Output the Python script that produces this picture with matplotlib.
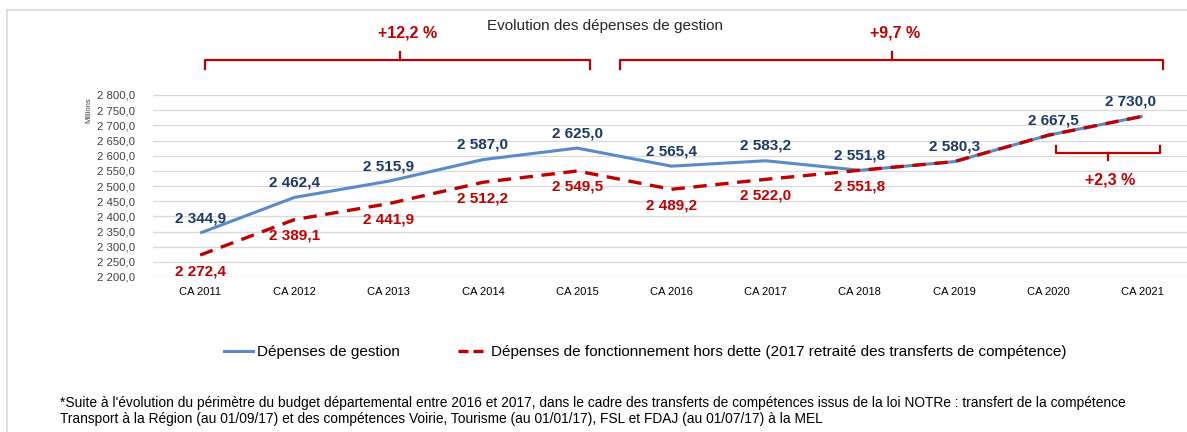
import matplotlib
matplotlib.use("Agg")
import matplotlib.pyplot as plt
from matplotlib.lines import Line2D

plt.rcParams['font.family'] = ['Liberation Sans', 'DejaVu Sans']

categories = ["CA 2011", "CA 2012", "CA 2013", "CA 2014", "CA 2015", "CA 2016",
              "CA 2017", "CA 2018", "CA 2019", "CA 2020", "CA 2021"]
gestion = [2344.9, 2462.4, 2515.9, 2587.0, 2625.0, 2565.4, 2583.2, 2551.8, 2580.3, 2667.5, 2730.0]
fonctionnement = [2272.4, 2389.1, 2441.9, 2512.2, 2549.5, 2489.2, 2522.0, 2551.8, 2580.3, 2667.5, 2730.0]
yticks = [2200, 2250, 2300, 2350, 2400, 2450, 2500, 2550, 2600, 2650, 2700, 2750, 2800]
evolutions = ["+12,2 %", "+9,7 %", "+2,3 %"]

title = "Evolution des dépenses de gestion"
legend_labels = ["Dépenses de gestion",
                 "Dépenses de fonctionnement hors dette (2017 retraité des transferts de compétence)"]
footnote = ("*Suite à l'évolution du périmètre du budget départemental entre 2016 et 2017, dans le cadre des "
            "transferts de compétences issus de la loi NOTRe : transfert de la compétence\n"
            "Transport à la Région (au 01/09/17) et des compétences Voirie, Tourisme (au 01/01/17), "
            "FSL et FDAJ (au 01/07/17) à la MEL")

BLUE = "#5A8BC6"
NAVY = "#1F3864"
RED = "#C00000"

W, H = 1187, 432
fig = plt.figure(figsize=(W / 100, H / 100), dpi=100)
fig.patch.set_facecolor("white")

def fx(px):
    return px / W

def fy(py):
    return 1 - py / H

# light frame
fig.add_artist(Line2D([fx(7), 1.0], [fy(10), fy(10)], color="#DADADA", lw=1.2))
fig.add_artist(Line2D([fx(7), fx(7)], [fy(10), 0.0], color="#DADADA", lw=1.2))

ax_left, ax_right = 153, 1187
ax_top, ax_bot = 95, 277
ax = fig.add_axes([fx(ax_left), fy(ax_bot), fx(ax_right - ax_left), (ax_bot - ax_top) / H])

x = list(range(len(categories)))
ax.plot(x, gestion, color=BLUE, lw=2.2, solid_capstyle="butt", zorder=3)
ax.plot(x, fonctionnement, color=RED, lw=2.4, dashes=(4.0, 2.6), zorder=4)

ax.set_xlim(-0.5, 10.47)
ax.set_ylim(2200, 2800)
ax.set_yticks(yticks)

def fmt(v):
    return f"{v:,.1f}".replace(",", " ").replace(".", ",")

ax.set_yticklabels([fmt(v) for v in yticks], fontsize=8.2, color="#404040")
ax.set_xticks(x)
ax.set_xticklabels(categories, fontsize=8, color="#000000")
ax.tick_params(axis="both", length=0)
ax.tick_params(axis="y", pad=13)
ax.tick_params(axis="x", pad=7)
for s in ax.spines.values():
    s.set_visible(False)
ax.grid(axis="y", color="#D9D9D9", lw=0.9)
ax.set_axisbelow(True)

blue_dx = [0, 0, 0, 0, 0, 0, 0, 0, 0, 5, -12]
for i, v in enumerate(gestion):
    ax.annotate(fmt(v), (i, v), xytext=(blue_dx[i], 15), textcoords="offset pixels",
                ha="center", va="center", fontsize=11, fontweight="bold", color=NAVY, zorder=5)
for i, v in enumerate(fonctionnement[:8]):
    ax.annotate(fmt(v), (i, v), xytext=(0, -16), textcoords="offset pixels",
                ha="center", va="center", fontsize=11, fontweight="bold", color=RED, zorder=5)

fig.text(fx(89), fy(110), "Millions", rotation=90, fontsize=5.5,
         color="#404040", ha="center", va="center")

# brackets (figure pixel coordinates)
def bracket_top(x0, x1, xt, y, drop, tip):
    fig.add_artist(Line2D([fx(x0), fx(x0), fx(x1), fx(x1)],
                          [fy(y + drop), fy(y), fy(y), fy(y + drop)], color=RED, lw=1.6))
    fig.add_artist(Line2D([fx(xt), fx(xt)], [fy(y), fy(y - tip)], color=RED, lw=1.6))

bracket_top(205, 590, 400, 60, 9, 8)
bracket_top(620, 1163, 892, 60, 9, 8)
fig.text(fx(408), fy(33), evolutions[0], fontsize=11.5, fontweight="bold", color=RED, ha="center", va="center")
fig.text(fx(895), fy(33), evolutions[1], fontsize=11.5, fontweight="bold", color=RED, ha="center", va="center")

# small bracket (opening upward)
fig.add_artist(Line2D([fx(1056), fx(1056), fx(1160), fx(1160)],
                      [fy(146), fy(153), fy(153), fy(146)], color=RED, lw=1.6))
fig.add_artist(Line2D([fx(1108), fx(1108)], [fy(153), fy(160)], color=RED, lw=1.6))
fig.text(fx(1110), fy(180), evolutions[2], fontsize=11.5, fontweight="bold", color=RED, ha="center", va="center")

fig.text(fx(605), fy(26), title, fontsize=11, color="#262626", ha="center", va="center")

handles = [Line2D([], [], color=BLUE, lw=2.2),
           Line2D([], [], color=RED, lw=2.4, dashes=(3.0, 1.5))]
fig.legend(handles, legend_labels, loc="center", bbox_to_anchor=(fx(645), fy(352)), ncol=2,
           frameon=False, fontsize=11, handlelength=1.9, handletextpad=0.25, columnspacing=3.8)

fig.text(fx(60), fy(411), footnote, fontsize=9.9, color="#000000", ha="left", va="center",
         linespacing=1.1)

fig.savefig("out.png", dpi=100)
